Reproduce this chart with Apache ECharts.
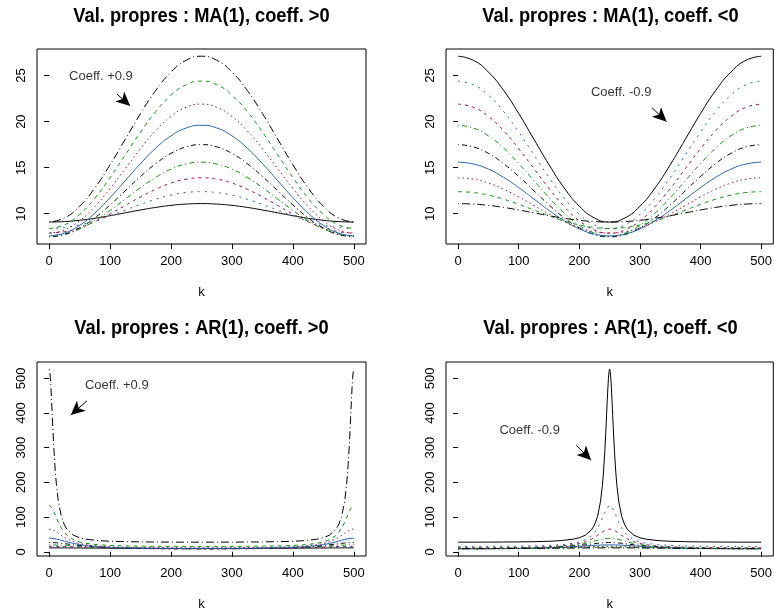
<!DOCTYPE html>
<html><head><meta charset="utf-8">
<script src="https://cdn.jsdelivr.net/npm/echarts@6/dist/echarts.min.js"></script>
<style>html,body{margin:0;padding:0;background:#fff}#c{width:775px;height:612px}</style>
</head><body><div id="c"></div>
<script>
const FONT = "'Liberation Sans',Arial,sans-serif";
const panelTitles = ["Val. propres : MA(1), coeff. >0","Val. propres : MA(1), coeff. <0","Val. propres : AR(1), coeff. >0","Val. propres : AR(1), coeff. <0"];
const xTicks = [0,100,200,300,400,500];
const yTicksMA = [10,15,20,25];
const yTicksAR = [0,100,200,300,400,500];

// MA(1) panels, k step 25
const kMA = [0,25,50,75,100,125,150,175,200,225,250,275,300,325,350,375,400,425,450,475,500];
// coeff > 0 : +0.1 ... +0.9
const maPos1 = [9.1,9.15,9.29,9.51,9.79,10.1,10.41,10.69,10.91,11.05,11.1,11.05,10.91,10.69,10.41,10.1,9.79,9.51,9.29,9.15,9.1];
const maPos2 = [8.4,8.5,8.78,9.22,9.78,10.4,11.02,11.58,12.02,12.3,12.4,12.3,12.02,11.58,11.02,10.4,9.78,9.22,8.78,8.5,8.4];
const maPos3 = [7.9,8.05,8.47,9.14,9.97,10.9,11.83,12.66,13.33,13.75,13.9,13.75,13.33,12.66,11.83,10.9,9.97,9.14,8.47,8.05,7.9];
const maPos4 = [7.6,7.8,8.36,9.25,10.36,11.6,12.84,13.95,14.84,15.4,15.6,15.4,14.84,13.95,12.84,11.6,10.36,9.25,8.36,7.8,7.6];
const maPos5 = [7.5,7.74,8.46,9.56,10.96,12.5,14.05,15.44,16.55,17.26,17.5,17.26,16.55,15.44,14.05,12.5,10.96,9.56,8.46,7.74,7.5];
const maPos6 = [7.6,7.89,8.75,10.07,11.75,13.6,15.45,17.13,18.45,19.31,19.6,19.31,18.45,17.13,15.45,13.6,11.75,10.07,8.75,7.89,7.6];
const maPos7 = [7.9,8.24,9.24,10.79,12.74,14.9,17.06,19.01,20.56,21.56,21.9,21.56,20.56,19.01,17.06,14.9,12.74,10.79,9.24,8.24,7.9];
const maPos8 = [8.4,8.79,9.93,11.7,13.93,16.4,18.87,21.1,22.87,24.01,24.4,24.01,22.87,21.1,18.87,16.4,13.93,11.7,9.93,8.79,8.4];
const maPos9 = [9.1,9.54,10.82,12.81,15.32,18.1,20.88,23.39,25.38,26.66,27.1,26.66,25.38,23.39,20.88,18.1,15.32,12.81,10.82,9.54,9.1];
// coeff < 0 : -0.9 ... -0.1
const maNeg1 = [27.1,26.66,25.38,23.39,20.88,18.1,15.32,12.81,10.82,9.54,9.1,9.54,10.82,12.81,15.32,18.1,20.88,23.39,25.38,26.66,27.1];
const maNeg2 = [24.4,24.01,22.87,21.1,18.87,16.4,13.93,11.7,9.93,8.79,8.4,8.79,9.93,11.7,13.93,16.4,18.87,21.1,22.87,24.01,24.4];
const maNeg3 = [21.9,21.56,20.56,19.01,17.06,14.9,12.74,10.79,9.24,8.24,7.9,8.24,9.24,10.79,12.74,14.9,17.06,19.01,20.56,21.56,21.9];
const maNeg4 = [19.6,19.31,18.45,17.13,15.45,13.6,11.75,10.07,8.75,7.89,7.6,7.89,8.75,10.07,11.75,13.6,15.45,17.13,18.45,19.31,19.6];
const maNeg5 = [17.5,17.26,16.55,15.44,14.05,12.5,10.96,9.56,8.46,7.74,7.5,7.74,8.46,9.56,10.96,12.5,14.05,15.44,16.55,17.26,17.5];
const maNeg6 = [15.6,15.4,14.84,13.95,12.84,11.6,10.36,9.25,8.36,7.8,7.6,7.8,8.36,9.25,10.36,11.6,12.84,13.95,14.84,15.4,15.6];
const maNeg7 = [13.9,13.75,13.33,12.66,11.83,10.9,9.97,9.14,8.47,8.05,7.9,8.05,8.47,9.14,9.97,10.9,11.83,12.66,13.33,13.75,13.9];
const maNeg8 = [12.4,12.3,12.02,11.58,11.02,10.4,9.78,9.22,8.78,8.5,8.4,8.5,8.78,9.22,9.78,10.4,11.02,11.58,12.02,12.3,12.4];
const maNeg9 = [11.1,11.05,10.91,10.69,10.41,10.1,9.79,9.51,9.29,9.15,9.1,9.15,9.29,9.51,9.79,10.1,10.41,10.69,10.91,11.05,11.1];

// AR(1), coeff > 0 : +0.1 ... +0.9
const kARpos = [0,1,2,3,4,5,6,8,10,12,15,20,25,30,40,50,60,80,100,125,150,175,200,225,250,275,300,325,350,375,400,420,440,450,460,470,475,480,485,488,490,492,494,495,496,497,498,499,500];
const arPos1 = [11.2,11.2,11.2,11.2,11.2,11.2,11.2,11.2,11.2,11.2,11.2,11.2,11.2,11.1,11.0,10.9,10.8,10.6,10.3,10.0,9.7,9.5,9.3,9.2,9.2,9.2,9.3,9.5,9.7,10.0,10.3,10.6,10.8,10.9,11.0,11.1,11.2,11.2,11.2,11.2,11.2,11.2,11.2,11.2,11.2,11.2,11.2,11.2,11.2];
const arPos2 = [13.0,13.0,13.0,13.0,13.0,13.0,13.0,13.0,13.0,13.0,12.9,12.9,12.8,12.7,12.5,12.2,11.9,11.3,10.7,10.0,9.5,9.1,8.9,8.7,8.7,8.7,8.9,9.1,9.5,10.0,10.7,11.3,11.9,12.2,12.5,12.7,12.8,12.9,12.9,13.0,13.0,13.0,13.0,13.0,13.0,13.0,13.0,13.0,13.0];
const arPos3 = [15.7,15.7,15.7,15.7,15.7,15.7,15.7,15.6,15.6,15.6,15.5,15.3,15.1,14.9,14.4,13.8,13.2,12.0,11.0,10.1,9.4,9.0,8.7,8.5,8.5,8.5,8.7,9.0,9.4,10.1,11.0,12.0,13.2,13.8,14.4,14.9,15.1,15.3,15.5,15.6,15.6,15.6,15.7,15.7,15.7,15.7,15.7,15.7,15.7];
const arPos4 = [19.8,19.8,19.8,19.8,19.8,19.8,19.8,19.7,19.6,19.5,19.3,18.9,18.5,18.0,16.8,15.7,14.6,12.8,11.4,10.3,9.5,9.0,8.7,8.6,8.5,8.6,8.7,9.0,9.5,10.3,11.4,12.8,14.6,15.7,16.8,18.0,18.5,18.9,19.3,19.5,19.6,19.7,19.8,19.8,19.8,19.8,19.8,19.8,19.8];
const arPos5 = [26.7,26.7,26.6,26.6,26.6,26.5,26.4,26.3,26.1,25.8,25.3,24.4,23.4,22.3,20.0,18.0,16.3,13.7,12.0,10.7,9.9,9.4,9.1,8.9,8.9,8.9,9.1,9.4,9.9,10.7,12.0,13.7,16.3,18.0,20.0,22.3,23.4,24.4,25.3,25.8,26.1,26.3,26.4,26.5,26.6,26.6,26.6,26.7,26.7];
const arPos6 = [39.1,39.0,38.9,38.9,38.8,38.6,38.4,37.9,37.3,36.6,35.4,33.1,30.7,28.3,24.0,20.7,18.1,14.8,12.9,11.5,10.7,10.2,10.0,9.8,9.8,9.8,10.0,10.2,10.7,11.5,12.9,14.8,18.1,20.7,24.0,28.3,30.7,33.1,35.4,36.6,37.3,37.9,38.4,38.6,38.8,38.9,38.9,39.0,39.1];
const arPos7 = [65.4,65.3,65.1,64.8,64.3,63.7,63.0,61.3,59.3,57.0,53.4,47.1,41.3,36.4,28.8,23.8,20.5,16.6,14.5,13.2,12.4,12.0,11.7,11.6,11.5,11.6,11.7,12.0,12.4,13.2,14.5,16.6,20.5,23.8,28.8,36.4,41.3,47.1,53.4,57.0,59.3,61.3,63.0,63.7,64.3,64.8,65.1,65.3,65.4];
const arPos8 = [133.9,133.5,132.3,130.4,128.0,125.0,121.5,114.0,105.9,97.5,85.0,68.3,55.6,46.4,34.8,28.4,24.4,20.3,18.3,16.9,16.2,15.8,15.6,15.5,15.4,15.5,15.6,15.8,16.2,16.9,18.3,20.3,24.4,28.4,34.8,46.4,55.6,68.3,85.0,97.5,105.9,114.0,121.5,125.0,128.0,130.4,132.3,133.5,133.9];
const arPos9 = [526.3,519.3,499.5,469.6,433.7,395.2,357.1,288.3,233.0,190.7,145.7,101.4,77.3,63.0,47.8,40.4,36.4,32.2,30.3,29.1,28.4,28.1,27.8,27.7,27.7,27.7,27.8,28.1,28.4,29.1,30.3,32.2,36.4,40.4,47.8,63.0,77.3,101.4,145.7,190.7,233.0,288.3,357.1,395.2,433.7,469.6,499.5,519.3,526.3];

// AR(1), coeff < 0 : -0.9 ... -0.1
const kARneg = [0,25,50,75,100,125,150,170,190,200,210,220,225,230,235,238,240,242,244,245,246,247,248,249,250,251,252,253,254,255,256,258,260,262,265,270,275,280,290,300,310,330,350,375,400,425,450,475,500];
const arNeg1 = [27.7,27.7,27.8,28.1,28.4,29.1,30.3,32.2,36.4,40.4,47.8,63.0,77.3,101.4,145.7,190.7,233.0,288.3,357.1,395.2,433.7,469.6,499.5,519.3,526.3,519.3,499.5,469.6,433.7,395.2,357.1,288.3,233.0,190.7,145.7,101.4,77.3,63.0,47.8,40.4,36.4,32.2,30.3,29.1,28.4,28.1,27.8,27.7,27.7];
const arNeg2 = [15.4,15.5,15.6,15.8,16.2,16.9,18.3,20.3,24.4,28.4,34.8,46.4,55.6,68.3,85.0,97.5,105.9,114.0,121.5,125.0,128.0,130.4,132.3,133.5,133.9,133.5,132.3,130.4,128.0,125.0,121.5,114.0,105.9,97.5,85.0,68.3,55.6,46.4,34.8,28.4,24.4,20.3,18.3,16.9,16.2,15.8,15.6,15.5,15.4];
const arNeg3 = [11.5,11.6,11.7,12.0,12.4,13.2,14.5,16.6,20.5,23.8,28.8,36.4,41.3,47.1,53.4,57.0,59.3,61.3,63.0,63.7,64.3,64.8,65.1,65.3,65.4,65.3,65.1,64.8,64.3,63.7,63.0,61.3,59.3,57.0,53.4,47.1,41.3,36.4,28.8,23.8,20.5,16.6,14.5,13.2,12.4,12.0,11.7,11.6,11.5];
const arNeg4 = [9.8,9.8,10.0,10.2,10.7,11.5,12.9,14.8,18.1,20.7,24.0,28.3,30.7,33.1,35.4,36.6,37.3,37.9,38.4,38.6,38.8,38.9,38.9,39.0,39.1,39.0,38.9,38.9,38.8,38.6,38.4,37.9,37.3,36.6,35.4,33.1,30.7,28.3,24.0,20.7,18.1,14.8,12.9,11.5,10.7,10.2,10.0,9.8,9.8];
const arNeg5 = [8.9,8.9,9.1,9.4,9.9,10.7,12.0,13.7,16.3,18.0,20.0,22.3,23.4,24.4,25.3,25.8,26.1,26.3,26.4,26.5,26.6,26.6,26.6,26.7,26.7,26.7,26.6,26.6,26.6,26.5,26.4,26.3,26.1,25.8,25.3,24.4,23.4,22.3,20.0,18.0,16.3,13.7,12.0,10.7,9.9,9.4,9.1,8.9,8.9];
const arNeg6 = [8.5,8.6,8.7,9.0,9.5,10.3,11.4,12.8,14.6,15.7,16.8,18.0,18.5,18.9,19.3,19.5,19.6,19.7,19.8,19.8,19.8,19.8,19.8,19.8,19.8,19.8,19.8,19.8,19.8,19.8,19.8,19.7,19.6,19.5,19.3,18.9,18.5,18.0,16.8,15.7,14.6,12.8,11.4,10.3,9.5,9.0,8.7,8.6,8.5];
const arNeg7 = [8.5,8.5,8.7,9.0,9.4,10.1,11.0,12.0,13.2,13.8,14.4,14.9,15.1,15.3,15.5,15.6,15.6,15.6,15.7,15.7,15.7,15.7,15.7,15.7,15.7,15.7,15.7,15.7,15.7,15.7,15.7,15.6,15.6,15.6,15.5,15.3,15.1,14.9,14.4,13.8,13.2,12.0,11.0,10.1,9.4,9.0,8.7,8.5,8.5];
const arNeg8 = [8.7,8.7,8.9,9.1,9.5,10.0,10.7,11.3,11.9,12.2,12.5,12.7,12.8,12.9,12.9,13.0,13.0,13.0,13.0,13.0,13.0,13.0,13.0,13.0,13.0,13.0,13.0,13.0,13.0,13.0,13.0,13.0,13.0,13.0,12.9,12.9,12.8,12.7,12.5,12.2,11.9,11.3,10.7,10.0,9.5,9.1,8.9,8.7,8.7];
const arNeg9 = [9.2,9.2,9.3,9.5,9.7,10.0,10.3,10.6,10.8,10.9,11.0,11.1,11.2,11.2,11.2,11.2,11.2,11.2,11.2,11.2,11.2,11.2,11.2,11.2,11.2,11.2,11.2,11.2,11.2,11.2,11.2,11.2,11.2,11.2,11.2,11.2,11.2,11.1,11.0,10.9,10.8,10.6,10.3,10.0,9.7,9.5,9.3,9.2,9.2];

// style cycle by curve index
const lineColors = ['#000000','#2563ad','#99104f','#0a950a','#000000','#2563ad','#99104f','#0a950a','#000000'];
const lineDashes = ['solid',[2,5],[3,4],[1,3,5,3],[1,3,5,3],'solid',[1.5,3],[4,4],[1,3,8,3]];

const panels = [
  {k:kMA, sets:[maPos1,maPos2,maPos3,maPos4,maPos5,maPos6,maPos7,maPos8,maPos9], smooth:true},
  {k:kMA, sets:[maNeg1,maNeg2,maNeg3,maNeg4,maNeg5,maNeg6,maNeg7,maNeg8,maNeg9], smooth:true},
  {k:kARpos, sets:[arPos1,arPos2,arPos3,arPos4,arPos5,arPos6,arPos7,arPos8,arPos9], smooth:false},
  {k:kARneg, sets:[arNeg1,arNeg2,arNeg3,arNeg4,arNeg5,arNeg6,arNeg7,arNeg8,arNeg9], smooth:false}
];
const notes = [
  {text:'Coeff. +0.9', at:[85,24.9], from:[111,23.0], to:[133,21.7]},
  {text:'Coeff. -0.9', at:[269,23.15], from:[320,21.5], to:[344,20.0]},
  {text:'Coeff. +0.9', at:[111,480], from:[62,435], to:[35.5,394]},
  {text:'Coeff. -0.9', at:[118,349], from:[195,307], to:[219.5,264]}
];

const gridBoxes = [
  {left:37, top:49, width:329, height:195},
  {left:446, top:49, width:329, height:195},
  {left:37, top:362, width:329, height:196},
  {left:446, top:362, width:329, height:196}
];
const yRanges = [[6.716,27.884],[6.716,27.884],[-12.2,547.0],[-12.2,547.0]];
const titleY = [16, 16, 328, 328];

const txt = {fontFamily:FONT, fontSize:13, color:'#000'};
const grid = [], xAxis = [], yAxis = [], series = [], graphic = [];
gridBoxes.forEach((g,p)=>{
  grid.push(Object.assign({show:true, borderColor:'#000', borderWidth:1, backgroundColor:'transparent'}, g));
  xAxis.push({gridIndex:p, type:'value', min:-20, max:520,
    axisLine:{show:false}, splitLine:{show:false},
    axisTick:{show:true, customValues:xTicks, length:5, lineStyle:{color:'#000', width:1}},
    axisLabel:Object.assign({customValues:xTicks, margin:11}, txt),
    name:'k', nameLocation:'middle', nameGap:42, nameTextStyle:Object.assign({}, txt)});
  yAxis.push({gridIndex:p, type:'value', min:yRanges[p][0], max:yRanges[p][1],
    axisLine:{show:false}, splitLine:{show:false},
    axisTick:{show:true, customValues:p<2?yTicksMA:yTicksAR, length:5, lineStyle:{color:'#000', width:1}},
    axisLabel:Object.assign({customValues:p<2?yTicksMA:yTicksAR, margin:9, rotate:90}, txt)});
  const P = panels[p];
  P.sets.forEach((vals,i)=>{
    series.push({type:'line', xAxisIndex:p, yAxisIndex:p, symbol:'none', smooth:P.smooth,
      data:P.k.map((x,j)=>[x, vals[j]]), animation:false, silent:true,
      lineStyle:{color:lineColors[i], width:1, type:lineDashes[i]}});
  });
  const n = notes[p];
  series.push({type:'scatter', xAxisIndex:p, yAxisIndex:p, symbolSize:1, animation:false, silent:true,
    itemStyle:{color:'rgba(0,0,0,0)'},
    data:[n.at],
    label:Object.assign({show:true, position:'inside', formatter:n.text}, txt),
    markLine:{silent:true, animation:false, symbol:['none','arrow'], symbolSize:[10,14],
      label:{show:false}, lineStyle:{color:'#000', width:1, type:'solid'},
      data:[[{coord:n.from},{coord:n.to}]]}});
  graphic.push({type:'text', x:g.left + g.width/2, y:titleY[p], scaleX:0.87,
    style:{text:panelTitles[p], font:"bold 21px "+FONT, fill:'#000', textAlign:'center', textVerticalAlign:'middle'}});
});

const chart = echarts.init(document.getElementById('c'), null, {renderer:'canvas'});
chart.setOption({animation:false, grid, xAxis, yAxis, series, graphic});
</script>
</body></html>
